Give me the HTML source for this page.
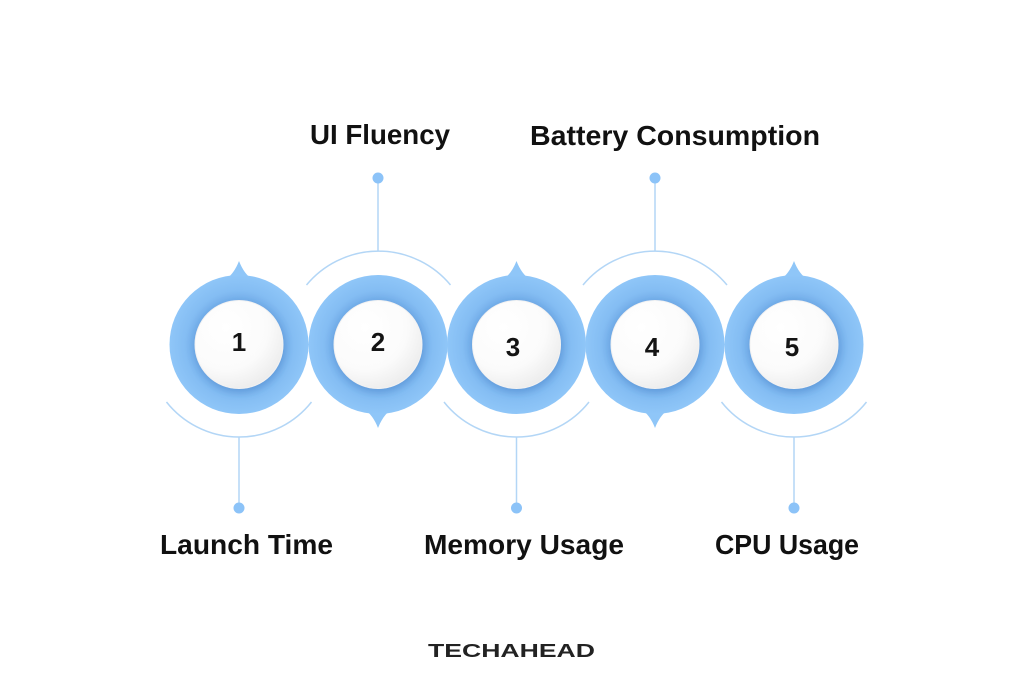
<!DOCTYPE html>
<html>
<head>
<meta charset="utf-8">
<style>
  html,body{margin:0;padding:0;background:#ffffff;}
  svg{display:block;}
  text{font-family:"Liberation Sans",sans-serif;}
</style>
</head>
<body>
<svg width="1024" height="682" viewBox="0 0 1024 682" xmlns="http://www.w3.org/2000/svg">
  <defs>
    <radialGradient id="ring" cx="0.5" cy="0.5" r="0.5">
      <stop offset="0.6" stop-color="#6fa9e6"/>
      <stop offset="0.78" stop-color="#84bdf3"/>
      <stop offset="1" stop-color="#8fc6f8"/>
    </radialGradient>
    <radialGradient id="inner" cx="0.35" cy="0.3" r="0.8">
      <stop offset="0" stop-color="#ffffff"/>
      <stop offset="0.6" stop-color="#fbfbfb"/>
      <stop offset="1" stop-color="#e9e9e9"/>
    </radialGradient>
    <filter id="sh" x="-30%" y="-30%" width="160%" height="160%">
      <feDropShadow dx="1" dy="3" stdDeviation="4" flood-color="#3a78c0" flood-opacity="0.35"/>
    </filter>
  </defs>

  <!-- arcs and connectors -->
  <g fill="none" stroke="#b3d6f6" stroke-width="1.5">
    <path d="M166.5 402 A92.5 92.5 0 0 0 311.5 402"/>
    <path d="M306.5 285 A93.5 93.5 0 0 1 450.5 285"/>
    <path d="M444 402 A92.5 92.5 0 0 0 589 402"/>
    <path d="M583 285 A93.5 93.5 0 0 1 727 285"/>
    <path d="M721.5 402 A92.5 92.5 0 0 0 866.5 402"/>
    <line x1="239" y1="437" x2="239" y2="508"/>
    <line x1="378" y1="251" x2="378" y2="178"/>
    <line x1="516.5" y1="437" x2="516.5" y2="508"/>
    <line x1="655" y1="251" x2="655" y2="178"/>
    <line x1="794" y1="437" x2="794" y2="508"/>
  </g>
  <g fill="#8cc3f8">
    <circle cx="239" cy="508" r="5.5"/>
    <circle cx="378" cy="178" r="5.5"/>
    <circle cx="516.5" cy="508" r="5.5"/>
    <circle cx="655" cy="178" r="5.5"/>
    <circle cx="794" cy="508" r="5.5"/>
  </g>

  <!-- circles -->
  <g>
    <!-- 1 -->
    <path d="M225 280 Q234 274 239 261 Q244 274 253 280 Z" fill="#8fc6f8"/>
    <circle cx="239" cy="344.5" r="69.5" fill="url(#ring)"/>
    <circle cx="239" cy="344.5" r="44" fill="url(#inner)" stroke="#f2f2f2" stroke-width="1" filter="url(#sh)"/>
    <text x="239" y="351" font-size="26" font-weight="bold" fill="#141414" text-anchor="middle">1</text>

    <!-- 2 -->
    <path d="M364 409 Q373 415 378 428 Q383 415 392 409 Z" fill="#8fc6f8"/>
    <circle cx="378" cy="344.5" r="69.5" fill="url(#ring)"/>
    <circle cx="378" cy="344.5" r="44" fill="url(#inner)" stroke="#f2f2f2" stroke-width="1" filter="url(#sh)"/>
    <text x="378" y="351" font-size="26" font-weight="bold" fill="#141414" text-anchor="middle">2</text>

    <!-- 3 -->
    <path d="M502.5 280 Q511.5 274 516.5 261 Q521.5 274 530.5 280 Z" fill="#8fc6f8"/>
    <circle cx="516.5" cy="344.5" r="69.5" fill="url(#ring)"/>
    <circle cx="516.5" cy="344.5" r="44" fill="url(#inner)" stroke="#f2f2f2" stroke-width="1" filter="url(#sh)"/>
    <text x="513" y="356" font-size="26" font-weight="bold" fill="#141414" text-anchor="middle">3</text>

    <!-- 4 -->
    <path d="M641 409 Q650 415 655 428 Q660 415 669 409 Z" fill="#8fc6f8"/>
    <circle cx="655" cy="344.5" r="69.5" fill="url(#ring)"/>
    <circle cx="655" cy="344.5" r="44" fill="url(#inner)" stroke="#f2f2f2" stroke-width="1" filter="url(#sh)"/>
    <text x="652" y="356" font-size="26" font-weight="bold" fill="#141414" text-anchor="middle">4</text>

    <!-- 5 -->
    <path d="M780 280 Q789 274 794 261 Q799 274 808 280 Z" fill="#8fc6f8"/>
    <circle cx="794" cy="344.5" r="69.5" fill="url(#ring)"/>
    <circle cx="794" cy="344.5" r="44" fill="url(#inner)" stroke="#f2f2f2" stroke-width="1" filter="url(#sh)"/>
    <text x="792" y="356" font-size="26" font-weight="bold" fill="#141414" text-anchor="middle">5</text>
  </g>

  <!-- labels -->
  <g font-size="28" font-weight="bold" fill="#111111">
    <text x="310" y="144" textLength="140" lengthAdjust="spacingAndGlyphs">UI Fluency</text>
    <text x="530" y="145" textLength="290" lengthAdjust="spacingAndGlyphs">Battery Consumption</text>
    <text x="160" y="554" textLength="173" lengthAdjust="spacingAndGlyphs">Launch Time</text>
    <text x="424" y="554" textLength="200" lengthAdjust="spacingAndGlyphs">Memory Usage</text>
    <text x="715" y="554" textLength="144" lengthAdjust="spacingAndGlyphs">CPU Usage</text>
  </g>

  <!-- logo -->
  <text x="428" y="657" font-size="18" font-weight="bold" fill="#222222" textLength="167" lengthAdjust="spacingAndGlyphs">TECHAHEAD</text>
</svg>
</body>
</html>
